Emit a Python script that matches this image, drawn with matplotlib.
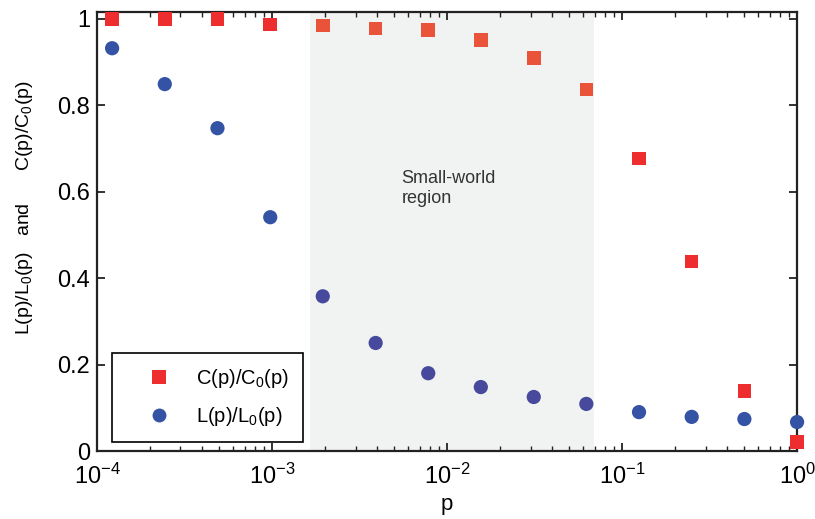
import matplotlib
matplotlib.use("Agg")
import matplotlib.pyplot as plt
from matplotlib.ticker import LogLocator, NullFormatter

plt.rcParams['font.family'] = ['Liberation Sans', 'DejaVu Sans']
plt.rcParams['mathtext.fontset'] = 'custom'
plt.rcParams['mathtext.rm'] = 'Liberation Sans'
plt.rcParams['mathtext.it'] = 'Liberation Sans'

# rewiring probability
p = [1.22e-4, 2.44e-4, 4.88e-4, 9.77e-4, 1.95e-3, 3.91e-3, 7.81e-3,
     1.56e-2, 3.13e-2, 6.25e-2, 0.125, 0.25, 0.5, 1.0]
# clustering C(p)/C(0)
c_ratio = [1.0, 1.0, 1.0, 0.987, 0.985, 0.978, 0.974,
           0.951, 0.909, 0.837, 0.677, 0.439, 0.139, 0.021]
# path length L(p)/L(0)
l_ratio = [0.932, 0.849, 0.747, 0.541, 0.358, 0.250, 0.180,
           0.148, 0.125, 0.109, 0.090, 0.079, 0.074, 0.067]

region = (1.65e-3, 6.9e-2)

fig = plt.figure(figsize=(8.15, 5.19), dpi=100)
ax = fig.add_axes([0.119, 0.131, 0.859, 0.846])

ax.axvspan(region[0], region[1], color='#f1f3f2', zorder=0, lw=0)

# points inside the shaded band look slightly tinted
c_cols = ['#e8533a' if region[0] < x < region[1] else '#ee2e2e' for x in p]
l_cols = ['#474a9c' if region[0] < x < region[1] else '#3553a5' for x in p]

ax.scatter(p, c_ratio, marker='s', s=95, c=c_cols, lw=0, zorder=3, clip_on=False)
ax.scatter(p, l_ratio, marker='o', s=105, c=l_cols, lw=0, zorder=3, clip_on=False)

# proxies for the legend
hc, = ax.plot([], [], 's', color='#ee2e2e', ms=9.5, mew=0, label='C(p)/C$_0$(p)')
hl, = ax.plot([], [], 'o', color='#3553a5', ms=10, mew=0, label='L(p)/L$_0$(p)')

ax.text(5.5e-3, 0.608, 'Small-world\nregion', fontsize=13, color='#333333',
        linespacing=1.25, va='center')

ax.set_xscale('log')
ax.set_xlim(1e-4, 1.0)
ax.set_ylim(0, 1.016)
ax.set_yticks([0, 0.2, 0.4, 0.6, 0.8, 1])
ax.set_yticklabels(['0', '0.2', '0.4', '0.6', '0.8', '1'])
ax.xaxis.set_major_locator(LogLocator(base=10, numticks=10))
ax.xaxis.set_minor_locator(LogLocator(base=10, subs=range(2, 10), numticks=20))
ax.xaxis.set_minor_formatter(NullFormatter())

ax.tick_params(which='both', direction='in', top=True, right=True,
               labelsize=17, width=1.3, color='#222222')
ax.tick_params(axis='x', pad=9)
ax.tick_params(axis='y', pad=5)
ax.tick_params(which='major', length=6)
ax.tick_params(which='minor', length=3.5, width=1)
for sp in ax.spines.values():
    sp.set_linewidth(1.6)
    sp.set_color('#222222')

ax.set_xlabel('p', fontsize=16, labelpad=4)
ax.set_ylabel('L(p)/L$_0$(p)   and      C(p)/C$_0$(p)', fontsize=14)
ax.yaxis.set_label_coords(-0.088, 0.555)

leg = ax.legend(handles=[hc, hl], loc='lower left', bbox_to_anchor=(0.021, 0.02),
                borderaxespad=0, fontsize=14.5, fancybox=False, framealpha=1,
                edgecolor='black', borderpad=0.7, handletextpad=0.2,
                labelspacing=0.75, handlelength=3.3)
leg.get_frame().set_linewidth(1.2)
leg.set_zorder(5)

fig.savefig('out.png', dpi=100)
